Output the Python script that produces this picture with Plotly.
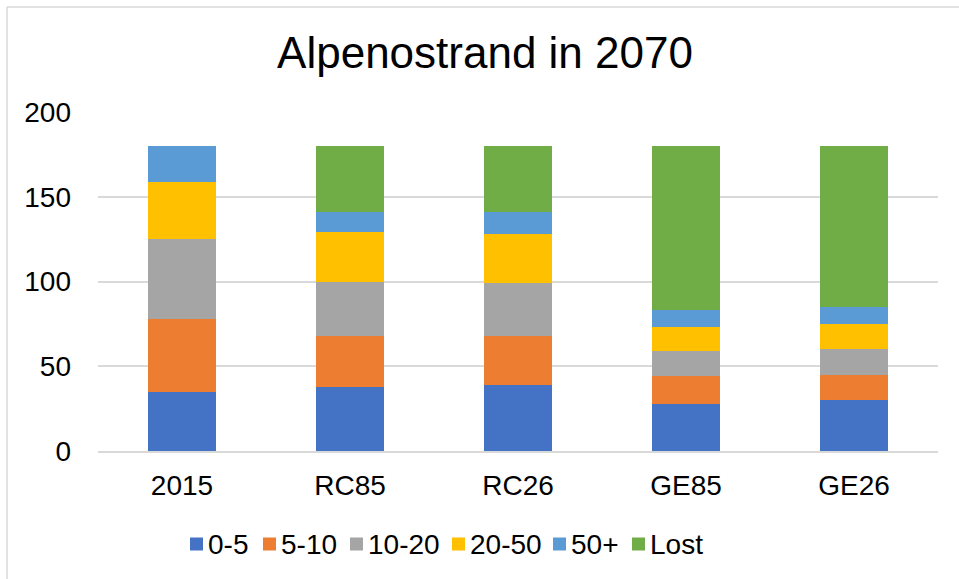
import plotly.graph_objects as go

categories = ["2015", "RC85", "RC26", "GE85", "GE26"]
series_names = ["0-5", "5-10", "10-20", "20-50", "50+", "Lost"]
v_0_5 = [35, 38, 39, 28, 30]
v_5_10 = [43, 30, 29, 16, 15]
v_10_20 = [47, 32, 31, 15, 15]
v_20_50 = [34, 29, 29, 14, 15]
v_50p = [21, 12, 13, 10, 10]
v_lost = [0, 39, 39, 97, 95]
series_values = [v_0_5, v_5_10, v_10_20, v_20_50, v_50p, v_lost]
y_ticks = [0, 50, 100, 150, 200]

colors = ["#4472C4", "#ED7D31", "#A5A5A5", "#FFC000", "#5B9BD5", "#70AD47"]
FONT = "Liberation Sans, Arial, sans-serif"

W, H = 959, 579
L, R, T, B = 98, 21, 112, 128
plot_w = W - L - R
plot_h = H - T - B

fig = go.Figure()
for name, vals, col in zip(series_names, series_values, colors):
    fig.add_trace(go.Bar(
        x=categories, y=vals, name=name,
        marker=dict(color=col, line=dict(width=0)),
        showlegend=False,
    ))

# custom legend (positions in pixels, converted to paper coords)
legend_px = [190, 263, 350, 452, 553, 632]
legend_y_px = 544
ly = (H - B - legend_y_px) / plot_h
shapes = []
annotations = []
for name, col, px in zip(series_names, colors, legend_px):
    xp = (px - L) / plot_w
    shapes.append(dict(
        type="rect", xref="paper", yref="paper",
        xsizemode="pixel", ysizemode="pixel",
        xanchor=xp, yanchor=ly,
        x0=0, x1=13, y0=-6.5, y1=6.5,
        fillcolor=col, line=dict(width=0),
    ))
    annotations.append(dict(
        xref="paper", yref="paper", x=(px + 16 - L) / plot_w, y=ly,
        xanchor="left", yanchor="middle", showarrow=False,
        text=name, font=dict(family=FONT, size=28, color="#000000"),
    ))

# chart border (top and left visible)
shapes.append(dict(type="line", xref="paper", yref="paper",
                   x0=(7 - L) / plot_w, x1=(W - L) / plot_w,
                   y0=(H - B - 7) / plot_h, y1=(H - B - 7) / plot_h,
                   line=dict(color="#D9D9D9", width=1.5)))
shapes.append(dict(type="line", xref="paper", yref="paper",
                   x0=(7 - L) / plot_w, x1=(7 - L) / plot_w,
                   y0=(H - B - 7) / plot_h, y1=(H - B - H) / plot_h,
                   line=dict(color="#D9D9D9", width=1.5)))

fig.update_layout(
    width=W, height=H,
    margin=dict(l=L, r=R, t=T, b=B, pad=0),
    barmode="stack", bargap=0.6,
    plot_bgcolor="white", paper_bgcolor="white",
    title=dict(text="Alpenostrand in 2070", x=(485) / W, xanchor="center",
               y=1 - 53 / H, yanchor="middle",
               font=dict(family=FONT, size=44, color="#000000")),
    font=dict(family=FONT, size=28, color="#000000"),
    shapes=shapes, annotations=annotations,
    showlegend=False,
)
fig.update_yaxes(range=[0, 200], tickvals=y_ticks, showgrid=True,
                 gridcolor="#D9D9D9", gridwidth=1.5, zeroline=False,
                 showline=False, ticks="", ticklabelstandoff=26,
                 tickfont=dict(family=FONT, size=28, color="#000000"))
fig.update_xaxes(showline=True, linecolor="#D9D9D9", linewidth=2,
                 ticks="", ticklabelstandoff=8,
                 tickfont=dict(family=FONT, size=28, color="#000000"))

fig.write_html("out.html",
               config={"displayModeBar": False},
               post_script="document.body.style.margin='0px';document.body.style.overflow='hidden';")
